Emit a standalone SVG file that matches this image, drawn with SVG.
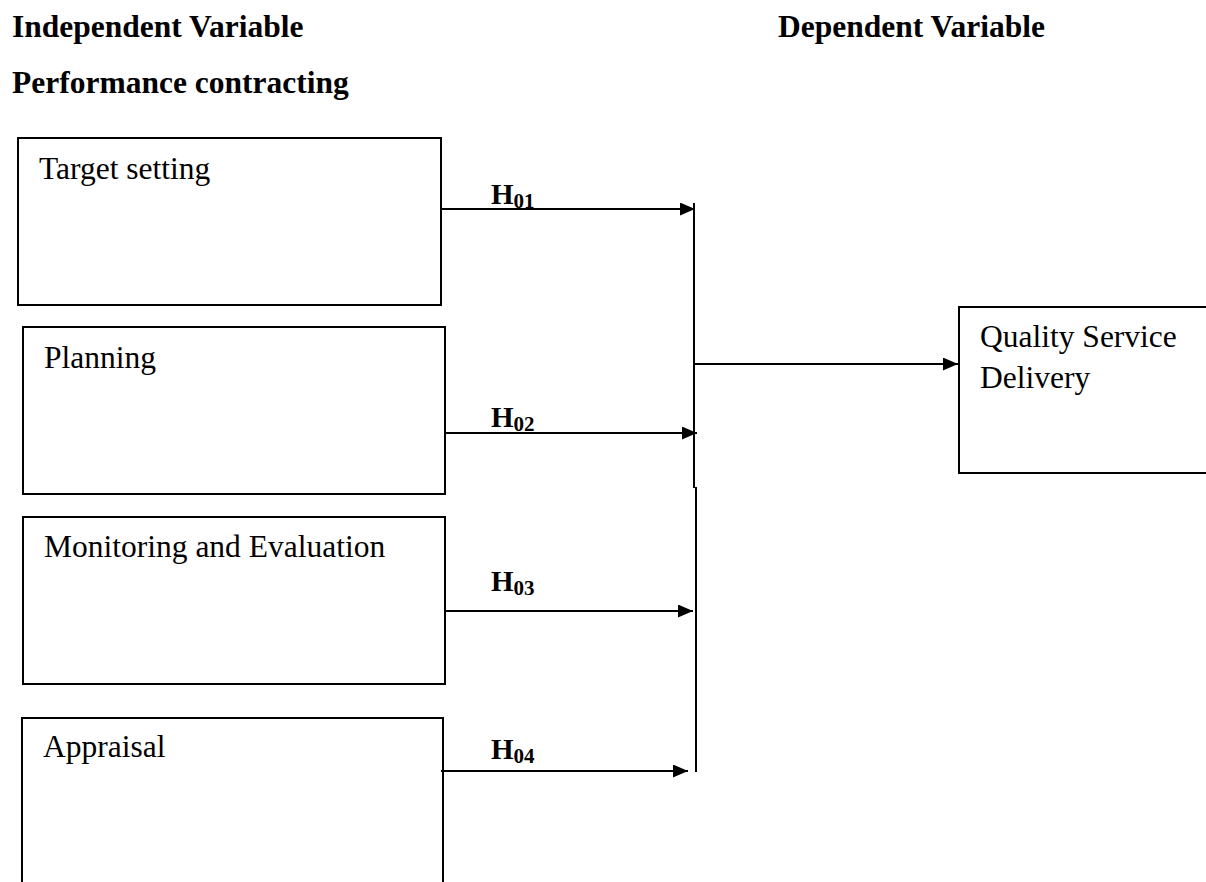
<svg xmlns="http://www.w3.org/2000/svg" width="1206" height="882" viewBox="0 0 1206 882">
<style>
.box{fill:#fff;stroke:#000;stroke-width:2}
.t{font-family:"Liberation Serif","Times New Roman",serif;font-size:31.5px;fill:#000}
.b{font-weight:bold}
.h{font-family:"Liberation Serif","Times New Roman",serif;font-weight:bold;fill:#000;font-size:29px}
.sub{font-size:21px}
.ln{stroke:#000;stroke-width:2;fill:none}
</style>
<defs>
<marker id="ah" markerUnits="userSpaceOnUse" markerWidth="16" markerHeight="14" refX="15" refY="6.5" orient="auto">
<path d="M0,0 L15,6.5 L0,13 z" fill="#000"/>
</marker>
</defs>
<rect width="1206" height="882" fill="#fff"/>
<g id="titles">
<text class="t b" x="12" y="37">Independent Variable</text>
<text class="t b" x="12" y="93">Performance contracting</text>
<text class="t b" x="778" y="37">Dependent Variable</text>
</g>
<g id="node-target">
<rect class="box" x="18" y="138" width="423" height="167"/>
<text class="t" x="39" y="179">Target setting</text>
</g>
<g id="node-planning">
<rect class="box" x="23" y="327" width="422" height="167"/>
<text class="t" x="44" y="368">Planning</text>
</g>
<g id="node-monitoring">
<rect class="box" x="23" y="517" width="422" height="167"/>
<text class="t" x="44" y="557">Monitoring and Evaluation</text>
</g>
<g id="node-appraisal">
<rect class="box" x="22" y="718" width="421" height="180"/>
<text class="t" x="43" y="757">Appraisal</text>
</g>
<g id="node-quality">
<rect class="box" x="959" y="307" width="260" height="166"/>
<text class="t" x="980" y="347">Quality Service</text>
<text class="t" x="980" y="388">Delivery</text>
</g>
<g id="connectors">
<line class="ln" x1="441" y1="209" x2="695" y2="209" marker-end="url(#ah)"/>
<line class="ln" x1="445" y1="433" x2="697" y2="433" marker-end="url(#ah)"/>
<line class="ln" x1="445" y1="611" x2="693" y2="611" marker-end="url(#ah)"/>
<line class="ln" x1="441" y1="771" x2="688" y2="771" marker-end="url(#ah)"/>
<line class="ln" x1="694" y1="203" x2="694" y2="488"/>
<line class="ln" x1="696" y1="487" x2="696" y2="772"/>
<line class="ln" x1="694" y1="364" x2="958" y2="364" marker-end="url(#ah)"/>
</g>
<g id="labels">
<text class="h" x="491" y="204">H<tspan class="sub" dy="4">01</tspan></text>
<text class="h" x="491" y="427">H<tspan class="sub" dy="4">02</tspan></text>
<text class="h" x="491" y="591">H<tspan class="sub" dy="4">03</tspan></text>
<text class="h" x="491" y="759">H<tspan class="sub" dy="4">04</tspan></text>
</g>
</svg>
